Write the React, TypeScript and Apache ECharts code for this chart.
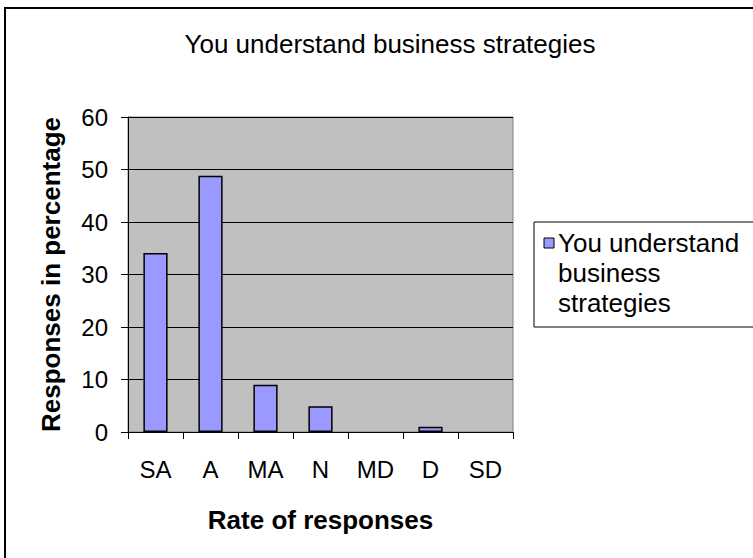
import React, { useEffect, useRef } from "react";
import * as echarts from "echarts";

const categories = ["SA", "A", "MA", "N", "MD", "D", "SD"];
const values = [34.1, 48.8, 9.0, 4.9, 0, 1.0, 0];
const seriesName = "You understand business strategies";
const titleText = "You understand business strategies";
const yAxisName = "Responses in percentage";
const xAxisName = "Rate of responses";
const legendLines = ["You understand", "business", "strategies"];

const FONT = "'Liberation Sans', Arial, sans-serif";

export default function App() {
  const ref = useRef<HTMLDivElement>(null);
  useEffect(() => {
    if (!ref.current) return;
    const chart = echarts.init(ref.current, null, { renderer: "svg" });
    const barData = values.map((v) =>
      v === 0 ? { value: v, itemStyle: { borderWidth: 0, opacity: 0 } } : { value: v }
    );
    chart.setOption({
      animation: false,
      backgroundColor: "#ffffff",
      textStyle: { fontFamily: FONT },
      title: {
        text: titleText,
        left: 385,
        textAlign: "center",
        top: 26,
        textStyle: { fontSize: 26, fontWeight: "normal", color: "#000", fontFamily: FONT },
      },
      grid: {
        left: 128,
        top: 117,
        width: 385,
        height: 315,
        show: true,
        backgroundColor: "#C0C0C0",
        borderColor: "#808080",
        borderWidth: 1,
      },
      xAxis: {
        type: "category",
        data: categories,
        name: xAxisName,
        nameLocation: "middle",
        nameGap: 75,
        nameTextStyle: { fontSize: 26, fontWeight: "bold", color: "#000", fontFamily: FONT },
        axisLine: { show: true, lineStyle: { color: "#000", width: 1 } },
        axisTick: { show: true, length: 7, inside: false, alignWithLabel: false, lineStyle: { color: "#000" } },
        axisLabel: { fontSize: 24, color: "#000", margin: 25, fontFamily: FONT },
        splitLine: { show: false },
      },
      yAxis: {
        type: "value",
        min: 0,
        max: 60,
        interval: 10,
        name: yAxisName,
        nameLocation: "middle",
        nameGap: 64,
        nameRotate: 90,
        nameTextStyle: { fontSize: 26, fontWeight: "bold", color: "#000", fontFamily: FONT },
        axisLine: { show: true, lineStyle: { color: "#000", width: 1 } },
        axisTick: { show: true, length: 7, inside: false, lineStyle: { color: "#000" } },
        axisLabel: { fontSize: 24, color: "#000", margin: 20, fontFamily: FONT },
        splitLine: { show: true, lineStyle: { color: "#000", width: 1 } },
      },
      series: [
        {
          name: seriesName,
          type: "bar",
          data: barData,
          barWidth: "44%",
          itemStyle: { color: "#9999FF", borderColor: "#000", borderWidth: 1.5 },
        },
      ],
      graphic: [
        {
          type: "rect",
          shape: { x: 5, y: 8, width: 800, height: 600 },
          style: { fill: "none", stroke: "#000", lineWidth: 2 },
          silent: true,
          z: 100,
        },
        {
          type: "rect",
          shape: { x: 534, y: 222, width: 300, height: 105 },
          style: { fill: "#fff", stroke: "#000", lineWidth: 1 },
          z: 100,
        },
        {
          type: "rect",
          shape: { x: 544, y: 238, width: 10, height: 10 },
          style: { fill: "#9999FF", stroke: "#000", lineWidth: 1 },
          z: 101,
        },
        {
          type: "text",
          x: 558,
          y: 228,
          style: {
            text: legendLines.join("\n"),
            fontSize: 26,
            lineHeight: 30,
            fill: "#000",
            fontFamily: FONT,
            verticalAlign: "top",
          },
          z: 101,
        },
      ],
    });
    return () => chart.dispose();
  }, []);
  return (
    <div
      ref={ref}
      style={{ position: "absolute", left: 0, top: 0, width: 753, height: 558 }}
    />
  );
}
